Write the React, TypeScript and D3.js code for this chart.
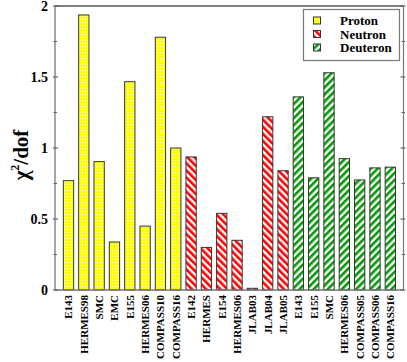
import React from "react";
import * as d3 from "d3";

const categories = [
  "E143", "HERMES98", "SMC", "EMC", "E155", "HERMES06", "COMPASS10", "COMPASS16",
  "E142", "HERMES", "E154", "HERMES06", "JLAB03", "JLAB04", "JLAB05",
  "E143", "E155", "SMC", "HERMES06", "COMPASS05", "COMPASS06", "COMPASS16",
];
const groups = [
  "p", "p", "p", "p", "p", "p", "p", "p",
  "n", "n", "n", "n", "n", "n", "n",
  "d", "d", "d", "d", "d", "d", "d",
];
const values = [
  0.77, 1.937, 0.904, 0.338, 1.467, 0.45, 1.78, 1.0,
  0.937, 0.30, 0.54, 0.35, 0.012, 1.22, 0.84,
  1.36, 0.79, 1.53, 0.925, 0.775, 0.86, 0.865,
];
const yTicks = [0, 0.5, 1, 1.5, 2];
const yMinorTicks = [0.25, 0.75, 1.25, 1.75];
const legendLabels = ["Proton", "Neutron", "Deuteron"];
const legendKeys = ["p", "n", "d"];

const W = 407, H = 362;
const L = 55, R = 403.5, T = 6, B = 290;
const FONT = "'Liberation Serif', 'Times New Roman', serif";

export default function App() {
  const x = d3.scaleLinear().domain([-0.88, 21.86]).range([L, R]);
  const y = d3.scaleLinear().domain([0, 2]).range([B, T]);
  const bw = 10.3;
  const fillFor = (g: string) => (g === "p" ? "url(#patP)" : g === "n" ? "url(#patN)" : "url(#patD)");

  return (
    <svg width={W} height={H} style={{ position: "absolute", left: 0, top: 0, background: "#fff" }}>
      <defs>
        <pattern id="patP" width="3" height="3" patternUnits="userSpaceOnUse">
          <rect width="3" height="3" fill="#ffff00" />
          <rect x="1" y="1" width="1.2" height="1.2" fill="#ffffff" />
        </pattern>
        <pattern id="patN" width="5" height="5" patternUnits="userSpaceOnUse" patternTransform="rotate(-45)">
          <rect width="5" height="5" fill="#ffffff" />
          <rect width="2.6" height="5" fill="#ff0000" />
        </pattern>
        <pattern id="patD" width="5" height="5" patternUnits="userSpaceOnUse" patternTransform="rotate(45)">
          <rect width="5" height="5" fill="#ffffff" />
          <rect width="2.6" height="5" fill="#009a00" />
        </pattern>
      </defs>

      {values.map((v, i) => (
        <rect
          key={i}
          x={x(i) - bw / 2}
          y={y(v)}
          width={bw}
          height={y(0) - y(v)}
          fill={fillFor(groups[i])}
          stroke="#333"
          strokeWidth={1}
        />
      ))}

      <line x1={L} x2={R} y1={T} y2={T} stroke="#000" strokeWidth={1.2} />
      <line x1={L} x2={L} y1={T} y2={B} stroke="#888" strokeWidth={1.5} />
      <line x1={R} x2={R} y1={T} y2={B} stroke="#777" strokeWidth={1.2} />
      <line x1={L} x2={R} y1={B} y2={B} stroke="#777" strokeWidth={1.5} />

      {yTicks.map((t) => (
        <g key={"t" + t}>
          <line x1={L - 2} x2={L + 3} y1={y(t)} y2={y(t)} stroke="#666" strokeWidth={1.2} />
          <line x1={R - 3} x2={R + 2} y1={y(t)} y2={y(t)} stroke="#666" strokeWidth={1.2} />
          <text x={48} y={y(t)} dy="0.35em" textAnchor="end" fontFamily={FONT} fontWeight="bold" fontSize={14}>
            {String(t)}
          </text>
        </g>
      ))}
      {yMinorTicks.map((t) => (
        <g key={"m" + t}>
          <line x1={L - 1.5} x2={L + 2} y1={y(t)} y2={y(t)} stroke="#666" strokeWidth={1} />
          <line x1={R - 2} x2={R + 1.5} y1={y(t)} y2={y(t)} stroke="#666" strokeWidth={1} />
        </g>
      ))}

      {categories.map((c, i) => (
        <text
          key={"x" + i}
          transform={`translate(${x(i)},${B + 5}) rotate(-90)`}
          textAnchor="end"
          dy="0.35em"
          fontFamily={FONT}
          fontWeight="bold"
          fontSize={11}
        >
          {c}
        </text>
      ))}

      <text
        transform={`translate(28,155) rotate(-90)`}
        textAnchor="middle"
        fontFamily={FONT}
        fontWeight="bold"
        fontSize={21}
      >
        <tspan>χ</tspan>
        <tspan fontSize={12} dy={-9}>2</tspan>
        <tspan dy={9}>/dof</tspan>
      </text>

      <rect x={303.5} y={9.5} width={96} height={51} fill="#fff" stroke="#777" strokeWidth={1.2} />
      {legendLabels.map((lab, i) => (
        <g key={lab}>
          <rect x={313.5} y={17 + i * 13.5} width={7} height={7} fill={fillFor(legendKeys[i])} stroke="#333" strokeWidth={1} />
          <text x={340} y={20.5 + i * 13.5} dy="0.35em" fontFamily={FONT} fontWeight="bold" fontSize={13}>
            {lab}
          </text>
        </g>
      ))}
    </svg>
  );
}
